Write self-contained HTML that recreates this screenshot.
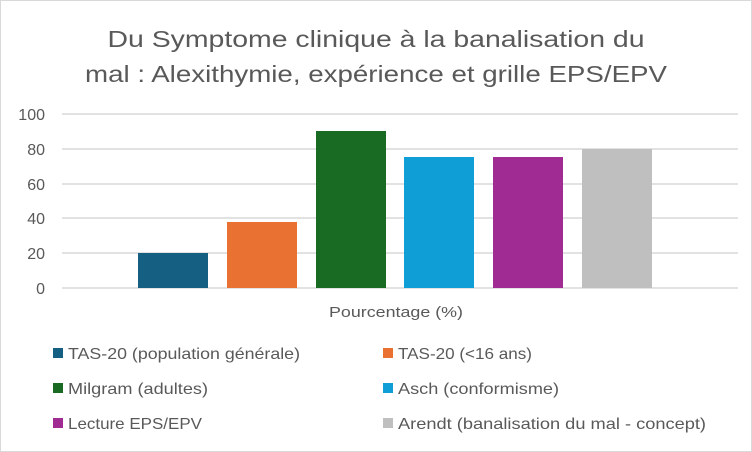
<!DOCTYPE html>
<html><head><meta charset="utf-8"><style>
html,body{margin:0;padding:0;background:#fff;}
svg{display:block;font-family:"Liberation Sans",sans-serif;}
</style></head><body>
<svg width="752" height="452" viewBox="0 0 752 452">
<rect x="0.5" y="0.5" width="751" height="451" fill="#fff" stroke="#d9d9d9"/>
<g fill="#595959">
<text x="376" y="47" font-size="23.5" text-anchor="middle" textLength="537" lengthAdjust="spacingAndGlyphs">Du Symptome clinique à la banalisation du</text>
<text x="376" y="82" font-size="23.5" text-anchor="middle" textLength="582" lengthAdjust="spacingAndGlyphs">mal : Alexithymie, expérience et grille EPS/EPV</text>
</g>
<g stroke="#d9d9d9" stroke-width="1.5">
<line x1="62" x2="738" y1="114" y2="114"/>
<line x1="62" x2="738" y1="149" y2="149"/>
<line x1="62" x2="738" y1="184" y2="184"/>
<line x1="62" x2="738" y1="218" y2="218"/>
<line x1="62" x2="738" y1="253" y2="253"/>
<line x1="62" x2="738" y1="288" y2="288"/>
</g>
<g fill="#595959" font-size="16" text-anchor="end">
<text x="45" y="120">100</text>
<text x="45" y="155">80</text>
<text x="45" y="190">60</text>
<text x="45" y="224">40</text>
<text x="45" y="259">20</text>
<text x="45" y="294">0</text>
</g>
<rect x="138" y="253" width="70" height="35" fill="#156082"/>
<rect x="227" y="222" width="70" height="66" fill="#E97132"/>
<rect x="316" y="131" width="70" height="157" fill="#196B24"/>
<rect x="404" y="157" width="70" height="131" fill="#0F9ED5"/>
<rect x="493" y="157" width="70" height="131" fill="#A02B93"/>
<rect x="582" y="149" width="70" height="139" fill="#BFBFBF"/>
<text x="396" y="317" font-size="15" fill="#595959" text-anchor="middle" textLength="134" lengthAdjust="spacingAndGlyphs">Pourcentage (%)</text>
<g font-size="16" fill="#595959">
<rect x="53" y="348" width="10" height="10" fill="#156082"/>
<text x="68" y="359" textLength="232" lengthAdjust="spacingAndGlyphs">TAS-20 (population générale)</text>
<rect x="383" y="348" width="10" height="10" fill="#E97132"/>
<text x="398" y="359" textLength="134" lengthAdjust="spacingAndGlyphs">TAS-20 (&lt;16 ans)</text>
<rect x="53" y="383" width="10" height="10" fill="#196B24"/>
<text x="68" y="394" textLength="140" lengthAdjust="spacingAndGlyphs">Milgram (adultes)</text>
<rect x="383" y="383" width="10" height="10" fill="#0F9ED5"/>
<text x="398" y="394" textLength="161" lengthAdjust="spacingAndGlyphs">Asch (conformisme)</text>
<rect x="53" y="418" width="10" height="10" fill="#A02B93"/>
<text x="68" y="429" textLength="134" lengthAdjust="spacingAndGlyphs">Lecture EPS/EPV</text>
<rect x="383" y="418" width="10" height="10" fill="#BFBFBF"/>
<text x="398" y="429" textLength="308" lengthAdjust="spacingAndGlyphs">Arendt (banalisation du mal - concept)</text>
</g>
</svg>
</body></html>
